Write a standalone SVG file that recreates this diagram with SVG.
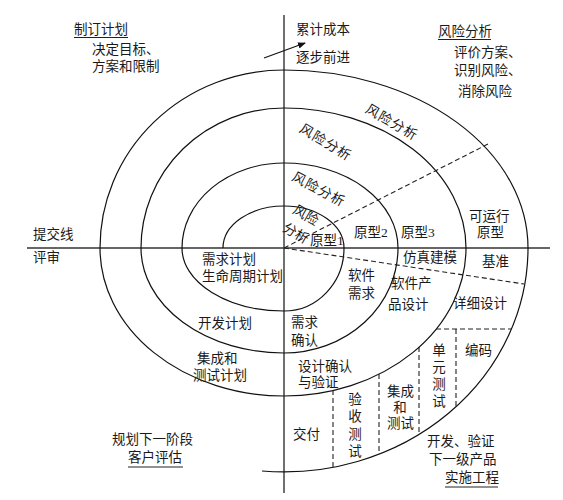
<svg xmlns="http://www.w3.org/2000/svg" width="563" height="500" viewBox="0 0 563 500">
<defs>
<style>
text{font-family:"Liberation Serif","Noto Sans CJK SC",serif;font-size:13.5px;fill:#1a1a1a}
.rt{text-anchor:middle;letter-spacing:1px}
.vc{text-anchor:middle}
.ax{stroke:#333;stroke-width:1.4;fill:none}
.sp{stroke:#111;stroke-width:1.2;fill:none}
.ds{stroke:#222;stroke-width:1.1;stroke-dasharray:5 3;fill:none}
.ul{stroke:#222;stroke-width:1}
</style>
<marker id="ah" markerWidth="8" markerHeight="8" refX="7" refY="4" orient="auto" markerUnits="userSpaceOnUse">
<path d="M0,0.8 L8,4 L0,7.2 Z" fill="#111"/>
</marker>
</defs>
<rect width="563" height="500" fill="#fff"/>

<g id="connectors">
<line class="ax" x1="27" y1="248" x2="550" y2="248"/>
<line class="ax" x1="284" y1="15" x2="284" y2="493"/>
<path class="sp" d="M223,248 A61,42 0 0 1 284,206 A60,42 0 0 1 344,248 A60,63 0 0 1 284,311 A102,63 0 0 1 182,248 A102,85 0 0 1 284,163 A114,85 0 0 1 398,248 A114,105 0 0 1 284,353 A143,105 0 0 1 141,248 A143,140 0 0 1 284,108 A182,140 0 0 1 466,248 A182,148 0 0 1 284,396 A184,148 0 0 1 100,248 A184,178 0 0 1 284,70 A244,178 0 0 1 528,248 A244,224 0 0 1 262,471"/>
<line class="ds" x1="284" y1="248" x2="488" y2="144"/>
<line class="ds" x1="284" y1="248" x2="524" y2="284"/>
<line class="ds" x1="436" y1="329" x2="511" y2="329"/>
<line class="ds" x1="456" y1="329" x2="456" y2="407"/>
<line class="ds" x1="419" y1="347" x2="419" y2="434"/>
<line class="ds" x1="379" y1="374" x2="379" y2="454"/>
<line class="ds" x1="333" y1="390" x2="333" y2="467"/>
<line x1="264" y1="58" x2="305" y2="43" stroke="#111" stroke-width="1.2" marker-end="url(#ah)"/>
</g>

<g id="plan">
<text x="74" y="34">制订计划</text>
<line class="ul" x1="74" y1="37.5" x2="128" y2="37.5"/>
<text x="92" y="54">决定目标、</text>
<text x="92" y="71">方案和限制</text>
</g>

<g id="cost">
<text x="296" y="34">累计成本</text>
<text x="296" y="62">逐步前进</text>
</g>

<g id="risk">
<text x="438" y="36">风险分析</text>
<line class="ul" x1="438" y1="39.5" x2="491" y2="39.5"/>
<text x="454" y="57">评价方案、</text>
<text x="454" y="75">识别风险、</text>
<text x="458" y="96">消除风险</text>
</g>

<g id="risk-labels">
<text class="rt" x="392" y="127" transform="rotate(30 392 122)">风险分析</text>
<text class="rt" x="326" y="147" transform="rotate(31 326 142)">风险分析</text>
<text class="rt" x="319" y="194" transform="rotate(28 319 189)">风险分析</text>
<text class="vc" x="306" y="220" transform="rotate(30 306 215)">风险</text>
<text class="vc" x="296" y="238" transform="rotate(30 296 233)">分析</text>
</g>

<g id="prototypes">
<text x="310" y="245">原型1</text>
<text x="354" y="237">原型2</text>
<text x="401" y="237">原型3</text>
<text x="469" y="221">可运行</text>
<text x="477" y="237">原型</text>
</g>

<g id="review">
<text x="33" y="239">提交线</text>
<text x="33" y="262">评审</text>
</g>

<g id="plans">
<text x="202" y="264">需求计划</text>
<text x="202" y="281">生命周期计划</text>
<text x="198" y="328">开发计划</text>
<text x="197" y="363">集成和</text>
<text x="193" y="380">测试计划</text>
</g>

<g id="next">
<text x="112" y="444">规划下一阶段</text>
<text x="128" y="462">客户评估</text>
<line class="ul" x1="128" y1="467" x2="183" y2="467"/>
</g>

<g id="engineering">
<text x="403" y="262">仿真建模</text>
<text x="482" y="266">基准</text>
<text x="348" y="280">软件</text>
<text x="348" y="298">需求</text>
<text x="391" y="288">软件产</text>
<text x="388" y="309">品设计</text>
<text x="453" y="308">详细设计</text>
<text x="291" y="327">需求</text>
<text x="291" y="345">确认</text>
<text x="298" y="371">设计确认</text>
<text x="298" y="387">与验证</text>
<text x="293" y="439">交付</text>
<text class="vc" x="355" y="404">验</text>
<text class="vc" x="355" y="421">收</text>
<text class="vc" x="355" y="439">测</text>
<text class="vc" x="355" y="456">试</text>
<text x="387" y="396">集成</text>
<text class="vc" x="400" y="412">和</text>
<text x="387" y="428">测试</text>
<text class="vc" x="439" y="355">单</text>
<text class="vc" x="439" y="372">元</text>
<text class="vc" x="439" y="389">测</text>
<text class="vc" x="439" y="406">试</text>
<text x="465" y="355">编码</text>
<text x="427" y="446">开发、验证</text>
<text x="429" y="464">下一级产品</text>
<text x="445" y="482">实施工程</text>
<line class="ul" x1="445" y1="487" x2="498" y2="487"/>
</g>
</svg>
